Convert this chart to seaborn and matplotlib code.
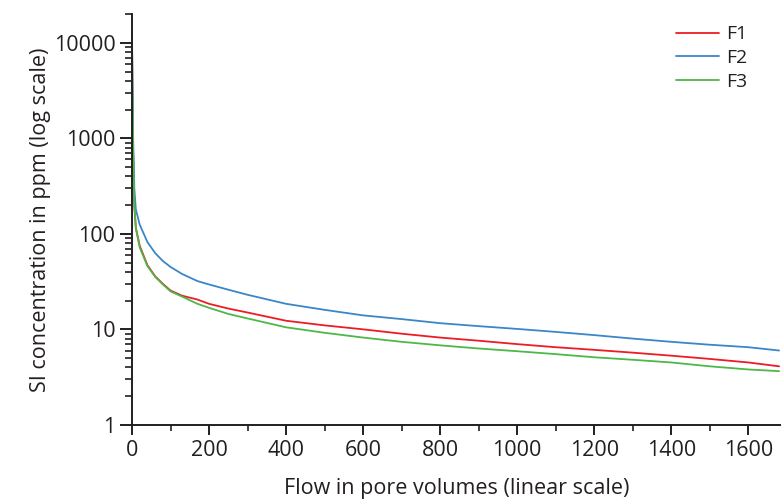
import numpy as np
import pandas as pd
import matplotlib
matplotlib.use('Agg')
import matplotlib.pyplot as plt
import matplotlib.ticker as mticker
import seaborn as sns

flow = [0, 1, 3, 6, 10, 20, 40, 60, 80, 100, 130, 170, 200, 250, 300, 400,
        500, 600, 700, 800, 900, 1000, 1100, 1200, 1300, 1400, 1500, 1600, 1680]
f1 = [11000, 3500, 700, 200, 115, 75, 47, 36, 30, 25.5, 22.5, 20.5, 18.5, 16.5, 15, 12.3,
      11, 10, 9.0, 8.2, 7.6, 7.0, 6.5, 6.1, 5.7, 5.3, 4.9, 4.5, 4.1]
f2 = [12500, 5000, 1000, 300, 180, 125, 82, 63, 52, 45, 38, 32, 29.5, 26, 23, 18.5,
      16, 14, 12.8, 11.6, 10.8, 10.1, 9.4, 8.7, 8.0, 7.4, 6.9, 6.5, 6.0]
f3 = [12000, 3500, 700, 200, 115, 72, 46, 35.5, 29.5, 25, 22, 18.5, 16.8, 14.5, 13, 10.5,
      9.2, 8.2, 7.4, 6.8, 6.3, 5.9, 5.5, 5.1, 4.8, 4.5, 4.1, 3.8, 3.65]
series = ['F1', 'F2', 'F3']
colors = ['#ED1C24', '#3B86C8', '#4DB848']

df = pd.DataFrame({
    'flow': flow * 3,
    'conc': f1 + f2 + f3,
    'series': [s for s in series for _ in flow],
})

sns.set_style('ticks')
plt.rcParams['font.family'] = ['Open Sans', 'DejaVu Sans']

fig = plt.figure(figsize=(7.81, 5.01), dpi=100)
ax = fig.add_axes([0.169, 0.152, 0.831, 0.82])

sns.lineplot(data=df, x='flow', y='conc', hue='series', hue_order=series,
             palette=colors, linewidth=1.3, ax=ax, estimator=None, sort=False)

ax.set_yscale('log')
ax.set_ylim(1, 20000)
ax.set_xlim(0, 1685)
ax.set_yticks([1, 10, 100, 1000, 10000])
ax.yaxis.set_major_formatter(mticker.FuncFormatter(lambda v, p: f'{int(round(v))}'))
ax.yaxis.set_minor_locator(mticker.LogLocator(base=10, subs=np.arange(2, 10)))
ax.yaxis.set_minor_formatter(mticker.NullFormatter())
ax.set_xticks(range(0, 1601, 200))
ax.xaxis.set_minor_locator(mticker.MultipleLocator(100))

for s in ['top', 'right']:
    ax.spines[s].set_visible(False)
for s in ['left', 'bottom']:
    ax.spines[s].set_linewidth(1.4)
    ax.spines[s].set_color('#231F20')

ax.tick_params(axis='both', which='major', labelsize=15.5, colors='#231F20', width=1.4)
ax.tick_params(axis='y', which='major', length=9, pad=3)
ax.tick_params(axis='y', which='minor', length=5, width=1.2, colors='#231F20')
ax.tick_params(axis='x', which='major', length=7, pad=4)
ax.tick_params(axis='x', which='minor', length=4, width=1.2, colors='#231F20')

ax.set_xlabel('Flow in pore volumes (linear scale)', fontsize=15.5, color='#231F20', labelpad=12)
ax.set_ylabel('SI concentration in ppm (log scale)', fontsize=15.5, color='#231F20', labelpad=2)

leg = ax.legend(loc='upper right', bbox_to_anchor=(0.975, 1.015), frameon=False, fontsize=14,
                handlelength=2.2, handletextpad=0.35, labelspacing=0.3)
for t in leg.get_texts():
    t.set_color('#231F20')

fig.savefig('out.png', dpi=100)
